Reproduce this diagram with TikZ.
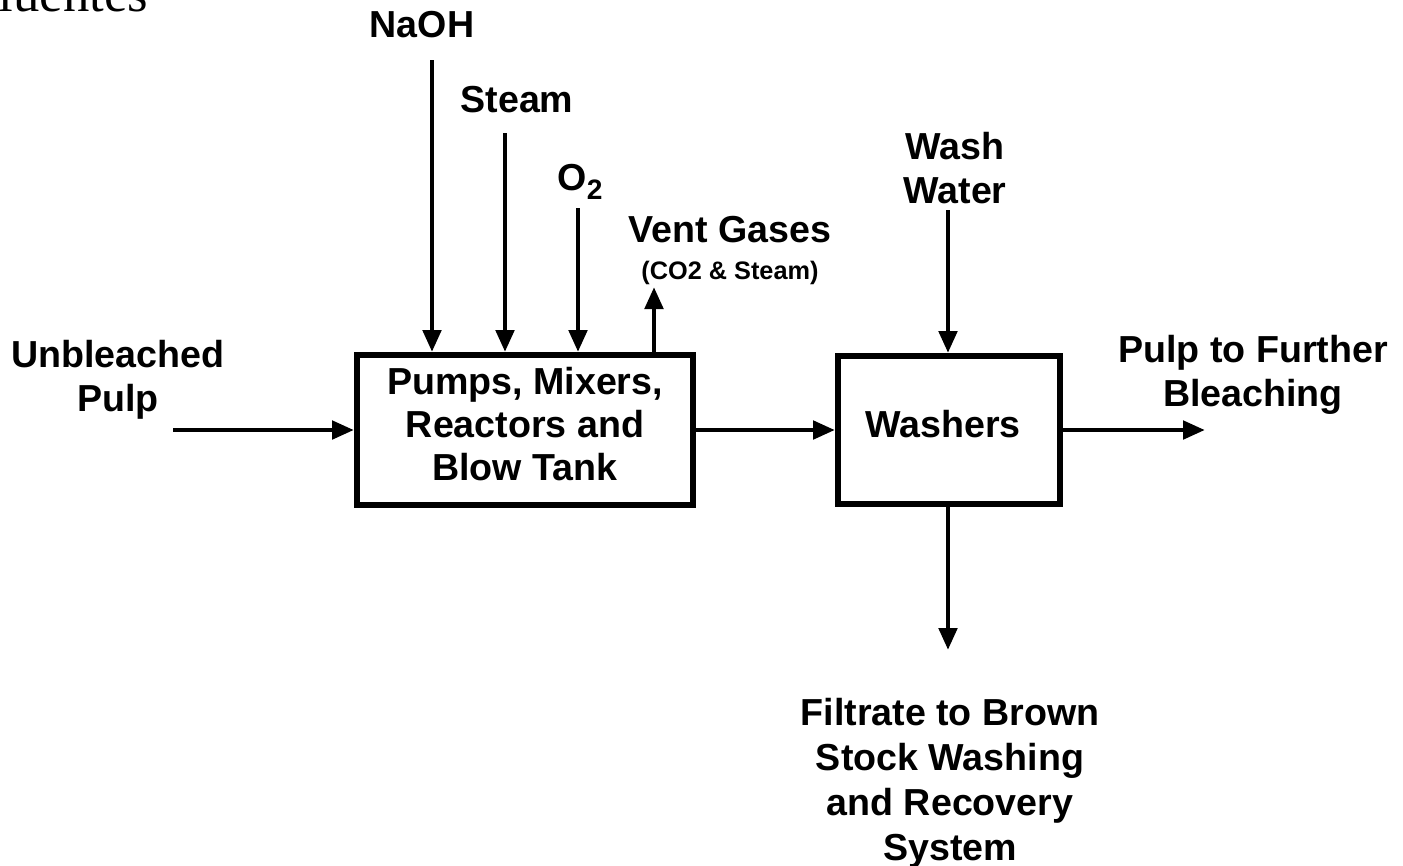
\documentclass[tikz,border=0pt]{standalone}
\usepackage{fontspec}
\setmainfont{Liberation Sans}
\newfontfamily\serifword{Liberation Serif}
\usetikzlibrary{arrows.meta, positioning}

\begin{document}
\begin{tikzpicture}[>={Triangle[length=0.22cm, width=0.18cm]},
  unit/.style={draw, line width=1.7pt},
  lbl/.style={font=\fontsize{10.7}{12.6}\selectfont\bfseries, align=center, inner sep=0pt},
  flow/.style={->, line width=1.4pt}]
  \useasboundingbox (0,0) rectangle (14.03,-8.65);

  % cut-off heading
  \node[anchor=base west, inner sep=0pt, font=\serifword\fontsize{15}{15}\selectfont]
    (head) at (-0.02,-0.11) {luentes};

  % process units
  \node[unit, minimum width=3.36cm, minimum height=1.50cm] (mix) at (5.25,-4.30) {};
  \node[unit, minimum width=2.22cm, minimum height=1.48cm] (wash) at (9.49,-4.30) {};
  \node[lbl, font=\fontsize{10.7}{12.3}\selectfont\bfseries] (mixtext) at ([yshift=0.06cm]mix.center)
    {Pumps, Mixers,\\Reactors and\\Blow Tank};
  \node[lbl] (washtext) at ([xshift=-0.06cm, yshift=0.06cm]wash.center) {Washers};

  % stream labels
  \node[lbl] (naoh) at (4.22,-0.25) {NaOH};
  \node[lbl] (steam) at (5.17,-1.00) {Steam};
  \node[lbl] (oxy) at (5.80,-1.82) {O\raisebox{-0.45ex}{\fontsize{8}{8}\selectfont 2}};
  \node[lbl] (vent) at (7.30,-2.30) {Vent Gases};
  \node[lbl, font=\fontsize{7.2}{8}\selectfont\bfseries, below=0.16cm of vent] (ventnote) {(CO2 \& Steam)};
  \node[lbl] (water) at (9.55,-1.68) {Wash\\Water};
  \node[lbl] (feed) at (1.18,-3.80) {Unbleached\\Pulp};
  \node[lbl] (further) at (12.53,-3.75) {Pulp to Further\\Bleaching};
  \node[lbl, font=\fontsize{10.7}{12.8}\selectfont\bfseries] (filtrate) at (9.50,-7.83)
    {Filtrate to Brown\\Stock Washing\\and Recovery\\System};

  % stream ends
  \coordinate (naohin) at (4.32,-0.60);
  \coordinate (steamin) at (5.05,-1.33);
  \coordinate (oxyin) at (5.78,-2.08);
  \coordinate (ventout) at (6.54,-2.87);
  \coordinate (waterin) at (9.48,-2.10);
  \coordinate (feedin) at (1.73,-4.30);
  \coordinate (pulpout) at (12.05,-4.30);
  \coordinate (filtout) at (9.48,-6.50);

  % streams
  \draw[flow] (naohin) -- (naohin |- mix.north);
  \draw[flow] (steamin) -- (steamin |- mix.north);
  \draw[flow] (oxyin) -- (oxyin |- mix.north);
  \draw[flow] (ventout |- mix.north) -- (ventout);
  \draw[flow] (feedin) -- (mix.west);
  \draw[flow] (mix.east) -- (wash.west);
  \draw[flow] (waterin) -- (waterin |- wash.north);
  \draw[flow] (wash.east) -- (pulpout);
  \draw[flow] (waterin |- wash.south) -- (filtout);
\end{tikzpicture}
\end{document}
